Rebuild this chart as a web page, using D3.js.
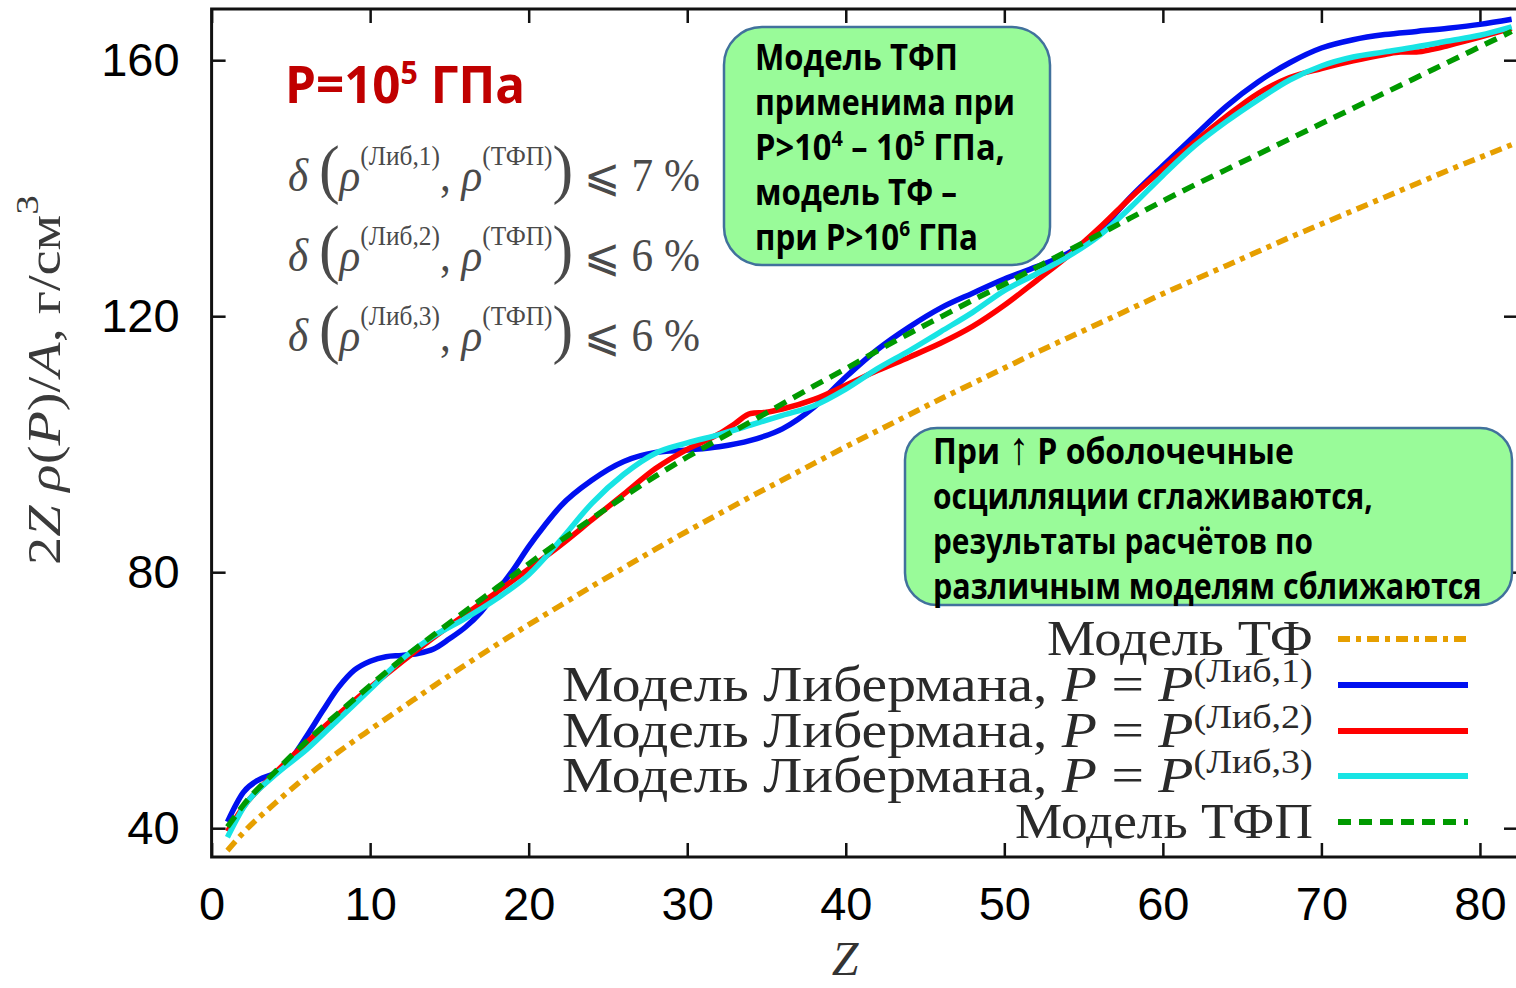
<!DOCTYPE html>
<html>
<head>
<meta charset="utf-8">
<script src="https://cdn.jsdelivr.net/npm/d3@7"></script>
<style>
  body { margin: 0; background: #fff; }
  svg { display: block; }
  text { white-space: pre; }
</style>
</head>
<body>
<svg id="chart"></svg>
<script>
// --- data ---
const zTF   = [1,2,4,6,8,10,12,14,16,18,20,22,24,26,28,30,32,34,36,38,40,42,44,46,48,50,52,54,56,58,60,62,64,66,68,70,72,74,76,78,80,82];
const rhoTF = [36.5,39.3,43.9,48.1,51.9,55.4,58.8,62.2,65.5,68.7,71.8,74.8,77.8,80.7,83.6,86.4,89.1,91.8,94.4,97.0,99.6,102.1,104.6,107.1,109.5,111.9,114.3,116.6,118.9,121.2,123.5,125.7,127.9,130.1,132.3,134.4,136.5,138.6,140.7,142.8,144.8,146.8];

const zLib1   = [1,2,3,4,5,6,7,8,9,10,11,12,13,14,15,16,17,18,19,20,21,22,24,26,28,30,32,34,36,38,40,42,44,46,48,50,52,54,56,58,60,62,64,66,68,70,72,74,76,78,80,82];
const rhoLib1 = [41.0,45.6,47.6,48.6,50.8,54.4,58.3,62.0,64.7,66.1,66.8,67.0,67.3,68.0,69.6,71.4,73.8,77.0,80.3,84.0,87.3,90.3,94.4,97.3,98.7,99.1,99.6,100.6,102.4,105.8,110.5,114.8,118.3,121.3,123.6,125.8,127.7,129.8,133.4,138.7,143.5,148.2,152.8,156.6,159.6,161.9,163.2,164.0,164.5,165.0,165.6,166.4];

const zLib2   = [1,2,4,6,8,10,12,14,16,18,20,22,24,26,28,30,32,33,34,35,36,38,40,42,44,46,48,50,52,54,56,58,60,62,64,66,68,70,72,74,75,76,77,78,80,82];
const rhoLib2 = [39.5,43.3,48.6,53.4,57.8,62.0,66.0,69.8,73.4,76.9,80.5,84.2,88.2,92.2,96.2,99.2,101.6,103.2,104.8,105.0,105.5,107.0,109.2,111.5,113.6,115.8,118.4,121.7,125.5,129.4,133.8,138.6,143.0,147.2,151.2,154.8,157.3,158.7,159.9,160.9,161.3,161.3,161.7,162.3,163.6,165.0];

const zLib3   = [1,2,4,6,8,10,12,14,16,18,20,22,24,26,28,30,32,34,36,38,40,42,44,46,48,50,52,54,56,58,60,62,64,66,68,70,72,74,76,78,80,82];
const rhoLib3 = [38.6,43.2,48.3,52.3,57.0,61.7,66.4,70.0,72.8,75.9,79.6,85.0,90.8,95.3,98.6,100.2,101.5,103.0,104.5,106.0,108.6,111.8,114.6,117.6,120.6,124.0,126.6,129.3,132.6,137.1,142.0,146.6,150.4,153.8,156.9,159.1,160.5,161.3,162.1,163.0,163.9,165.2];

const zTFP   = [1,2,4,6,8,10,12,14,16,18,20,22,24,26,28,30,32,34,36,38,40,42,44,46,48,50,52,54,56,58,60,62,64,66,68,70,72,74,76,78,80,82];
const rhoTFP = [40.2,43.6,48.8,53.6,58.0,62.3,66.4,70.2,73.9,77.6,81.3,84.9,88.4,91.8,95.0,98.0,100.8,103.5,106.3,109.1,111.8,114.6,117.3,119.9,122.5,125.0,127.6,130.2,132.8,135.4,138.0,140.5,142.9,145.3,147.7,150.1,152.5,154.9,157.3,159.7,162.1,164.5];

const xTicks = [0,10,20,30,40,50,60,70,80];
const yTicks = [40,80,120,160];

const libIndex = ["1","2","3"];
const deltaLimits = ["7","6","6"];

const box1Lines = [
  [{t:"Модель ТФП"}],
  [{t:"применима при"}],
  [{t:"P>10"},{t:"4",sup:true},{t:" – 10"},{t:"5",sup:true},{t:" ГПа,"}],
  [{t:"модель ТФ –"}],
  [{t:"при P>10"},{t:"6",sup:true},{t:" ГПа"}]
];
const box2Lines = [
  [{t:"При "},{t:"↑",size:46,weight:400},{t:" P оболочечные"}],
  [{t:"осцилляции сглаживаются,"}],
  [{t:"результаты расчётов по"}],
  [{t:"различным моделям сближаются"}]
];

// --- layout ---
const W = 1516, H = 988;
const L = 211.6, R = 1518, T = 9, B = 857;
const serif = "'Liberation Serif','DejaVu Serif',serif";
const sans = "'Liberation Sans',Arial,sans-serif";
const bold = "'Open Sans','Noto Sans',sans-serif";

const svg = d3.select("#chart").attr("width", W).attr("height", H);

const x = d3.scaleLinear().domain([0, 82.4]).range([L, R]);
const y = d3.scaleLinear().domain([35.5, 168]).range([B, T]);

svg.append("defs").append("clipPath").attr("id","plot")
  .append("rect").attr("x",L).attr("y",T).attr("width",R-L).attr("height",B-T);

// rich text helper: parts with superscripts / italics
function rich(parent, parts, o) {
  const t = parent.append("text").attr("x",0).attr("y",0)
    .attr("font-family", o.family).attr("fill", o.fill)
    .attr("font-weight", o.weight || 400);
  let shift = 0;
  parts.forEach(p => {
    const s = t.append("tspan").text(p.t);
    const target = p.sup ? o.supDy : 0;
    s.attr("dy", target - shift); shift = target;
    s.attr("font-size", p.size || (p.sup ? o.supSize : o.size));
    if (p.it) s.attr("font-style","italic");
    if (p.weight) s.attr("font-weight", p.weight);
  });
  return t;
}
// stretch text horizontally to span x0..x1 with baseline at yb
function place(t, x0, x1, yb) {
  const bb = t.node().getBBox();
  const s = (x1 - x0) / bb.width;
  t.attr("transform", `translate(${x0},${yb}) scale(${s},1) translate(${-bb.x},0)`);
}

// --- axes ---
const axB = svg.append("g").attr("transform",`translate(0,${B})`)
  .call(d3.axisBottom(x).tickValues(xTicks).tickSize(-14).tickPadding(30));
const axT = svg.append("g").attr("transform",`translate(0,${T})`)
  .call(d3.axisTop(x).tickValues(xTicks).tickSize(-14).tickFormat(""));
const axL = svg.append("g").attr("transform",`translate(${L},0)`)
  .call(d3.axisLeft(y).tickValues(yTicks).tickSize(-14).tickPadding(32));
const axR = svg.append("g").attr("transform",`translate(${R},0)`)
  .call(d3.axisRight(y).tickValues(yTicks).tickSize(-14).tickFormat(""));
[axB, axT, axL, axR].forEach(a => {
  a.select(".domain").remove();
  a.selectAll(".tick line").attr("stroke","#111").attr("stroke-width",2.5);
  a.selectAll("text").attr("font-family", sans).attr("font-size",47).attr("fill","#000");
});

// --- curves ---
const line = d3.line().x(d => x(d[0])).y(d => y(d[1])).curve(d3.curveMonotoneX);
const series = [
  {z:zTF,   v:rhoTF,   color:"#e69f00", dash:"12,6,5,6"},
  {z:zLib1, v:rhoLib1, color:"#0010f0", dash:null},
  {z:zLib2, v:rhoLib2, color:"#ff0000", dash:null},
  {z:zLib3, v:rhoLib3, color:"#18e4e4", dash:null},
  {z:zTFP,  v:rhoTFP,  color:"#009a00", dash:"13,8"}
];
const plot = svg.append("g").attr("clip-path","url(#plot)");
series.forEach(s => {
  plot.append("path").datum(d3.zip(s.z, s.v))
    .attr("d", line).attr("fill","none")
    .attr("stroke", s.color).attr("stroke-width",5.5)
    .attr("stroke-dasharray", s.dash);
});

// frame
svg.append("rect").attr("x",L).attr("y",T).attr("width",R-L).attr("height",B-T)
  .attr("fill","none").attr("stroke","#111").attr("stroke-width",3);

// --- axis titles ---
const yl = rich(svg, [{t:"2"},{t:"Z",it:true},{t:" "},{t:"ρ",it:true},{t:"("},{t:"P",it:true},{t:")/"},{t:"A",it:true},{t:", г/см"},{t:"3",sup:true}],
  {family:serif, fill:"#3a3a3a", size:46, supSize:32, supDy:-22});
{
  const bb = yl.node().getBBox();
  const s = 370 / bb.width;
  yl.attr("transform", `translate(60,380) rotate(-90) scale(${s},1) translate(${-bb.x - bb.width/2},0)`);
}
svg.append("text").attr("x",845).attr("y",975).attr("text-anchor","middle")
  .attr("font-family",serif).attr("font-style","italic").attr("font-size",48)
  .attr("fill","#333").text("Z");

// --- title ---
const ttl = rich(svg, [{t:"P=10"},{t:"5",sup:true},{t:" ГПа"}],
  {family:bold, weight:700, fill:"#c00000", size:52, supSize:32, supDy:-19});
place(ttl, 285, 525, 103);

// --- delta formulas ---
libIndex.forEach((k, i) => {
  const f = rich(svg, [
    {t:"δ",it:true},{t:" "},{t:"(",size:66},{t:"ρ",it:true},{t:"(Либ,"+k+")",sup:true},
    {t:", "},{t:"ρ",it:true},{t:"(ТФП)",sup:true},{t:")",size:66},{t:" ⩽ "+deltaLimits[i]+" %"}
  ], {family:serif, fill:"#4a4a4a", size:46, supSize:27, supDy:-26});
  place(f, 288, 700, 191 + i*80);
});

// --- green notes ---
function note(bx, by, bw, bh, r, lines, x0, x1s, y0) {
  svg.append("rect").attr("x",bx).attr("y",by).attr("width",bw).attr("height",bh)
    .attr("rx",r).attr("ry",r).attr("fill","#99fb99")
    .attr("stroke","#41719c").attr("stroke-width",2.5);
  lines.forEach((parts, i) => {
    const t = rich(svg, parts, {family:bold, weight:700, fill:"#000", size:36, supSize:22, supDy:-14});
    place(t, x0, x1s[i], y0 + i*45);
  });
}
note(724, 27, 326, 238, 38, box1Lines, 755, [958,1015,1005,957,978], 70);
note(905, 428, 607, 177, 32, box2Lines, 933, [1294,1373,1313,1482], 464);

// --- legend ---
const legendRows = [
  {parts:[{t:"Модель ТФ"}], x0:1047},
  ...libIndex.map(k => ({parts:[{t:"Модель Либермана, "},{t:"P",it:true},{t:" = "},{t:"P",it:true},{t:"(Либ,"+k+")",sup:true}], x0:562})),
  {parts:[{t:"Модель ТФП"}], x0:1015}
];
legendRows.forEach((row, i) => {
  const yb = [655,701,747,792,838][i];
  const t = rich(svg, row.parts, {family:serif, fill:"#2a2a2a", size:50, supSize:33, supDy:-19});
  place(t, row.x0, 1313, yb);
  const s = series[i];
  svg.append("line").attr("x1",1338).attr("x2",1468).attr("y1",yb-16).attr("y2",yb-16)
    .attr("stroke", s.color).attr("stroke-width",6).attr("stroke-dasharray", s.dash);
});
</script>
</body>
</html>
